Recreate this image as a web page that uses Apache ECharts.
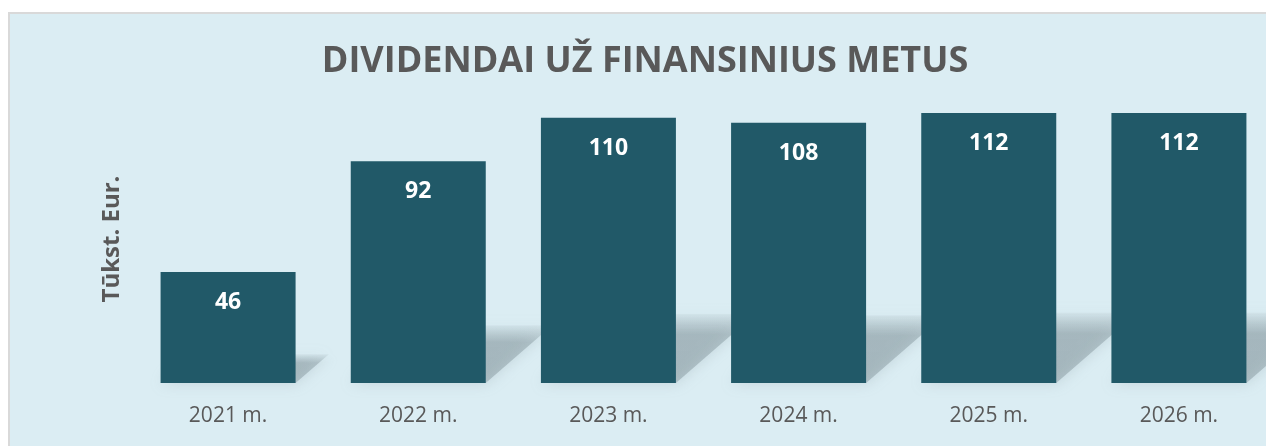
<!DOCTYPE html>
<html>
<head>
<meta charset="utf-8">
<script src="https://cdn.jsdelivr.net/npm/echarts@6/dist/echarts.min.js"></script>
<style>
  html, body { margin: 0; padding: 0; background: #ffffff; overflow: hidden; }
  #frame {
    position: absolute; left: 8px; top: 12px; width: 1270px; height: 450px;
    background: #dbedf3; border: 2px solid #d9d9d9; box-sizing: border-box;
  }
  #chart { position: absolute; left: 0; top: 0; width: 1266px; height: 446px; }
</style>
</head>
<body>
<div id="frame"></div>
<div id="chart"></div>
<script>
const years = ["2021 m.", "2022 m.", "2023 m.", "2024 m.", "2025 m.", "2026 m."]
const dividends = [46, 92, 110, 108, 112, 112]
const chartTitle = "DIVIDENDAI UŽ FINANSINIUS METUS"
const unitName = "Tūkst. Eur."

const chart = echarts.init(document.getElementById("chart"), null, { renderer: "canvas" })

// perspective shadow cast on the "floor" behind each bar
function renderShadow(params, api) {
  const base = api.coord([api.value(0), 0])
  const topPt = api.coord([api.value(0), api.value(1)])
  const h = base[1] - topPt[1]
  const half = 135 / 2
  const s = h * 0.26
  const d = h * 0.3
  const x0 = base[0] - half, x1 = base[0] + half, yb = base[1]
  return {
    type: "polygon",
    shape: { points: [[x0, yb], [x1, yb], [x1 + d, yb - s], [x0 + d, yb - s]] },
    style: {
      fill: new echarts.graphic.LinearGradient(0, 0, 0, 1, [
        { offset: 0, color: "rgba(120,138,145,0.08)" },
        { offset: 0.3, color: "rgba(120,138,145,0.4)" },
        { offset: 1, color: "rgba(120,138,145,0.42)" }
      ]),
      shadowBlur: 14,
      shadowColor: "rgba(120,138,145,0.6)"
    }
  }
}

const option = {
  title: {
    text: chartTitle,
    left: 640,
    textAlign: "center",
    top: 39,
    textStyle: { fontFamily: "Open Sans", fontWeight: "bold", fontSize: 36, color: "#595959" }
  },
  graphic: [
    {
      type: "text",
      x: 112,
      y: 239,
      rotation: Math.PI / 2,
      style: {
        text: unitName,
        fill: "#595959",
        font: "bold 24px 'Open Sans'",
        align: "center",
        verticalAlign: "middle"
      }
    }
  ],
  grid: { left: 133, top: 113, width: 1141, height: 270, outerBoundsMode: "none" },
  xAxis: {
    type: "category",
    data: years,
    axisLine: { show: false },
    axisTick: { show: false },
    axisLabel: { color: "#595959", fontSize: 21, fontFamily: "Open Sans", margin: 23 }
  },
  yAxis: {
    type: "value",
    min: 0,
    max: 112,
    axisLine: { show: false },
    axisTick: { show: false },
    axisLabel: { show: false },
    splitLine: { show: false }
  },
  series: [
    {
      type: "custom",
      renderItem: renderShadow,
      data: dividends.map((v, i) => [i, v]),
      z: 1,
      silent: true
    },
    {
      type: "bar",
      data: dividends,
      barWidth: 135,
      z: 2,
      itemStyle: { color: "#215968" },
      label: {
        show: true,
        position: "insideTop",
        distance: 19,
        color: "#ffffff",
        fontSize: 23,
        fontWeight: "bold",
        fontFamily: "Open Sans"
      }
    }
  ]
}
chart.setOption(option)
</script>
</body>
</html>
